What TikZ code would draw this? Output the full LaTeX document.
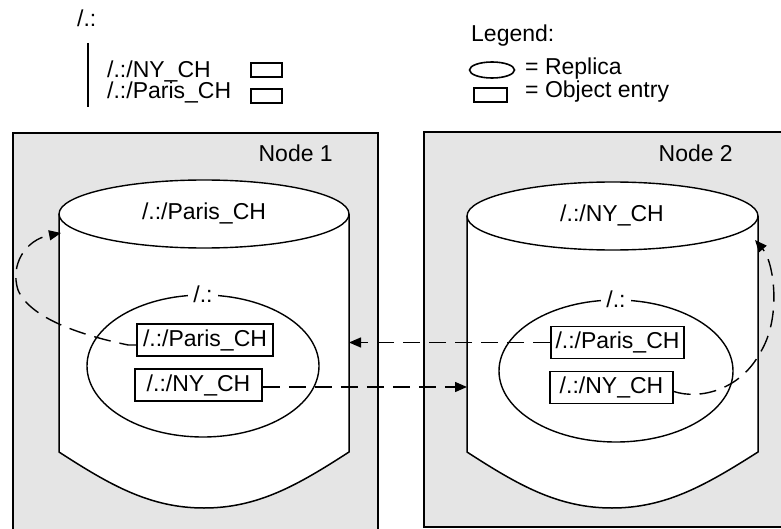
\documentclass[tikz,border=0pt]{standalone}
\usepackage{fontspec}
\setmainfont{Liberation Sans}
\usetikzlibrary{shapes.geometric,arrows.meta}

\tikzset{
  txt/.style={font=\fontsize{23}{23}\selectfont,inner sep=0pt},
  entry/.style={txt,draw,line width=1.6pt,fill=white,minimum height=32pt},
  replica/.style={ellipse,draw,line width=1.4pt,fill=white,inner sep=0pt},
  host/.style={draw,line width=2pt,fill=black!10},
  cyl/.style={draw,line width=1.5pt,fill=white},
  flow/.style={dash pattern=on 17pt off 9pt,line width=1.4pt,-{Triangle[length=12pt,width=10pt]}},
}

\begin{document}
\begin{tikzpicture}[x=1pt,y=-1pt]
  \useasboundingbox (0,0) rectangle (781,529);

  % namespace listing
  \node[txt,anchor=base west] (root) at (77,27) {/.:};
  \coordinate (bartop) at (88,43);
  \coordinate (barbot) at (88,107);
  \draw[line width=1.6pt] (bartop) -- (barbot);
  \node[txt,anchor=base west] (lsny) at (107,78) {/.:/NY\_CH};
  \node[txt,anchor=base west] (lsparis) at (107,99) {/.:/Paris\_CH};
  \node[draw,line width=1.6pt,minimum width=31pt,minimum height=14pt,inner sep=0pt] (lsnybox) at (266.5,70) {};
  \node[draw,line width=1.6pt,minimum width=31pt,minimum height=14pt,inner sep=0pt] (lsparisbox) at (266.5,96) {};

  % legend
  \node[txt,anchor=base west] (legend) at (471,42) {Legend:};
  \node[ellipse,draw,line width=1.6pt,minimum width=45pt,minimum height=16pt,inner sep=0pt] (legrep) at (492,70) {};
  \node[txt,anchor=base west] (legreptxt) at (525,75) {= Replica};
  \node[draw,line width=1.6pt,minimum width=33pt,minimum height=14pt,inner sep=0pt] (legobj) at (490.5,95) {};
  \node[txt,anchor=base west] (legobjtxt) at (525,98) {= Object entry};

  % hosts
  \draw[host] (13,133) rectangle (378,540);
  \draw[host] (424,132) rectangle (790,527);
  \node[txt,anchor=base east] (host1) at (333,162) {Node 1};
  \node[txt,anchor=base east] (host2) at (733,162) {Node 2};

  % clearinghouse on node 1
  \draw[cyl] (59,214) -- (59,452) .. controls (110,485) and (150,508) .. (204,508)
    .. controls (258,508) and (298,485) .. (349,452) -- (349,214);
  \node[replica,minimum width=290pt,minimum height=68pt] (top1) at (204,214) {};
  \node[txt,anchor=base] (ch1) at (204,220) {/.:/Paris\_CH};
  \coordinate (cyl1e) at (349,214);
  \coordinate (cyl1top) at (61,233);
  \node[replica,minimum width=232pt,minimum height=142pt] (rep1) at (203,366) {};
  \node[txt,fill=white,inner xsep=5pt] (rep1lbl) at (rep1.north) {/.:};
  \node[entry,minimum width=136pt] (p1) at (205,340) {/.:/Paris\_CH};
  \node[entry,minimum width=127pt] (n1) at (198.5,385) {/.:/NY\_CH};

  % clearinghouse on node 2
  \draw[cyl] (467,216) -- (467,452) .. controls (518,485) and (558,508) .. (612,508)
    .. controls (666,508) and (706,485) .. (758,452) -- (758,216);
  \node[replica,minimum width=291pt,minimum height=68pt] (top2) at (612.5,216) {};
  \node[txt,anchor=base] (ch2) at (612,222) {/.:/NY\_CH};
  \coordinate (cyl2w) at (467,216);
  \coordinate (cyl2top) at (755,240);
  \node[replica,minimum width=234pt,minimum height=142pt] (rep2) at (616,371) {};
  \node[txt,fill=white,inner xsep=5pt] (rep2lbl) at (rep2.north) {/.:};
  \node[entry,minimum width=133pt] (p2) at (617.5,342.5) {/.:/Paris\_CH};
  \node[entry,minimum width=123pt] (n2) at (611.5,387.5) {/.:/NY\_CH};

  % propagation
  \draw[flow] ([yshift=-5pt]p1.west) -- ++(-8,0) .. controls (80,335) and (30,318) .. (18,290)
    .. controls (10,265) and (25,240) .. (cyl1top);
  \draw[flow] (p2.west) -- (p2.west -| cyl1e);
  \draw[flow] ([yshift=-2pt]n1.east) -- ([yshift=-2pt]n1.east -| cyl2w);
  \draw[flow] ([yshift=-4pt]n2.east) .. controls (700,400) and (740,390) .. (760,353)
    .. controls (782,318) and (774,262) .. (cyl2top);
\end{tikzpicture}
\end{document}
